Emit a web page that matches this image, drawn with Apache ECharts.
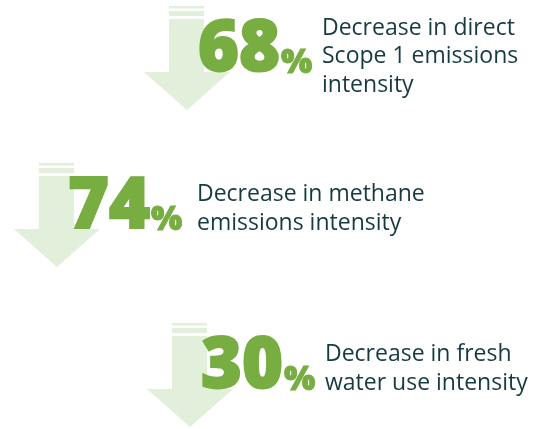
<!DOCTYPE html>
<html>
<head>
<meta charset="utf-8">
<script src="https://cdn.jsdelivr.net/npm/echarts@6/dist/echarts.min.js"></script>
<style>html,body{margin:0;padding:0;background:#fff}#c{width:544px;height:429px}</style>
</head>
<body>
<div id="c"></div>
<script>
// ---- data ----
const values = [68, 74, 30];
const unit = '%';
const captions = [
  ['Decrease in direct', 'Scope 1 emissions', 'intensity'],
  ['Decrease in methane', 'emissions intensity'],
  ['Decrease in fresh', 'water use intensity']
];

// ---- layout (style / placement, not data) ----
const layout = [
  { cx: 187, top: 6 },
  { cx: 57, top: 163 },
  { cx: 190, top: 323 }
];
const ARROW = '#e2efda', NUM = '#78ad42', TXT = '#173a40';
const NUM_SIZE = 70, PCT_SIZE = 33, NUM_STROKE = 2, PCT_STROKE = 1;
const NUM_FONT = '800 ' + NUM_SIZE + 'px "Open Sans"';
const PCT_FONT = '800 ' + PCT_SIZE + 'px "Open Sans"';
const CAP_SIZE = 23, CAP_FAMILY = '"Open Sans"', CAP_LH = 28.5;
const BASE = 0.8; // baseline offset from top, as fraction of font size

const mctx = document.createElement('canvas').getContext('2d');
function w(text, font) { mctx.font = font; return mctx.measureText(text).width; }

const chart = echarts.init(document.getElementById('c'), null, { renderer: 'canvas' });

function renderItem(params, api) {
  const i = api.value(0);
  const L = layout[i];
  const p = api.coord([L.cx, L.top]);
  const cx = p[0], t = p[1];
  const children = [];
  // arrow
  children.push({ type: 'rect', shape: { x: cx - 18, y: t, width: 35, height: 2.5 }, style: { fill: ARROW } });
  children.push({ type: 'rect', shape: { x: cx - 18, y: t + 5, width: 35, height: 5 }, style: { fill: ARROW } });
  children.push({ type: 'polygon', shape: { points: [
    [cx - 18, t + 13], [cx + 17, t + 13], [cx + 17, t + 66], [cx + 43, t + 66],
    [cx, t + 104], [cx - 43, t + 66], [cx - 18, t + 66]
  ] }, style: { fill: ARROW } });
  // number
  const numStr = String(api.value(1));
  const nx = cx + 11;
  const nb = t + 66;
  children.push({ type: 'text', x: nx, y: nb - BASE * NUM_SIZE, style: {
    text: numStr, font: NUM_FONT, fill: NUM, stroke: NUM, lineWidth: NUM_STROKE, lineJoin: 'round',
    align: 'left', verticalAlign: 'top' } });
  const nw = w(numStr, NUM_FONT);
  children.push({ type: 'text', x: nx + nw + 1, y: nb + 1 - BASE * PCT_SIZE, style: {
    text: unit, font: PCT_FONT, fill: NUM, stroke: NUM, lineWidth: PCT_STROKE, lineJoin: 'round',
    align: 'left', verticalAlign: 'top' } });
  // caption
  const capX = cx + (i === 1 ? 140 : 135);
  const lines = captions[i];
  const firstBase = t + (lines.length === 3 ? 29 : 38.5);
  lines.forEach(function (ln, k) {
    children.push({ type: 'text', x: capX, y: firstBase + k * CAP_LH - BASE * CAP_SIZE, style: {
      text: ln, fontSize: CAP_SIZE, fontFamily: CAP_FAMILY, fill: TXT, align: 'left', verticalAlign: 'top' } });
  });
  return { type: 'group', children: children };
}

chart.setOption({
  animation: false,
  backgroundColor: '#ffffff',
  grid: { left: 0, right: 0, top: 0, bottom: 0 },
  xAxis: { type: 'value', min: 0, max: 544, show: false },
  yAxis: { type: 'value', min: 0, max: 429, inverse: true, show: false },
  series: [{
    type: 'custom',
    renderItem: renderItem,
    data: values.map(function (v, i) { return [i, v]; }),
    encode: { x: -1, y: -1 },
    clip: false
  }]
});
</script>
</body>
</html>
